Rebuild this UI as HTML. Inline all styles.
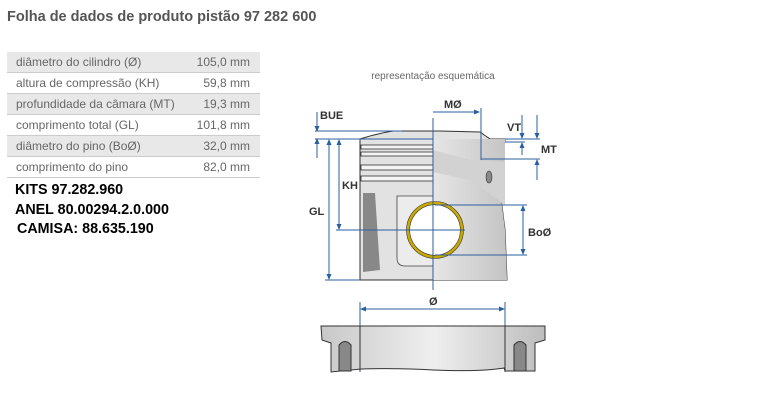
<!DOCTYPE html>
<html><head><meta charset="utf-8"><style>
body{margin:0;width:761px;height:418px;background:#fff;font-family:"Liberation Sans",Arial,sans-serif;position:relative;overflow:hidden}
.t{position:absolute;left:7px;top:9px;font-size:14.5px;font-weight:bold;color:#555}
table{position:absolute;left:7px;top:52px;width:253px;border-collapse:collapse;font-size:12px;color:#666}
td{height:20px;padding:0 0 0 9px;border-bottom:1px solid #ccc}
td.v{text-align:right;padding:0 10px 0 0}
tr:nth-child(odd) td{background:#e8e8e8}
.k{position:absolute;left:15px;font-size:14.3px;font-weight:bold;color:#000}
</style></head><body>
<div class="t">Folha de dados de produto pistão 97 282 600</div>
<table>
<tr><td>diâmetro do cilindro (Ø)</td><td class="v">105,0 mm</td></tr>
<tr><td>altura de compressão (KH)</td><td class="v">59,8 mm</td></tr>
<tr><td>profundidade da câmara (MT)</td><td class="v">19,3 mm</td></tr>
<tr><td>comprimento total (GL)</td><td class="v">101,8 mm</td></tr>
<tr><td>diâmetro do pino (BoØ)</td><td class="v">32,0 mm</td></tr>
<tr><td>comprimento do pino</td><td class="v">82,0 mm</td></tr>
</table>
<div class="k" style="top:182px">KITS 97.282.960</div>
<div class="k" style="top:202px">ANEL 80.00294.2.0.000</div>
<div class="k" style="top:221px;left:17px">CAMISA: 88.635.190</div>
<svg width="761" height="418" style="position:absolute;left:0;top:0" font-family="Liberation Sans,Arial,sans-serif">
<defs><marker id="a" markerWidth="6" markerHeight="6" refX="5" refY="3" orient="auto"><path d="M0,0.5 L6,3 L0,5.5z" fill="#2a5fa0"/></marker>
<linearGradient id="g" x1="0" x2="1"><stop offset="0" stop-color="#c8c8c8"/><stop offset=".5" stop-color="#efefef"/><stop offset="1" stop-color="#bdbdbd"/></linearGradient>
<linearGradient id="r" x1="0" x2="1"><stop offset="0" stop-color="#e6e6e6"/><stop offset="1" stop-color="#c4c4c4"/></linearGradient></defs>
<text x="433" y="79" font-size="10" fill="#666" text-anchor="middle">representação esquemática</text>
<!-- piston -->
<path d="M360,139 L360,280 L507,280 L505,230 L500,190 L505,139 L490,139 L480,132 L440,131 L393,131 Q375,134 360,139z" fill="#e2e2e2" stroke="#333" stroke-width="1"/>
<path d="M433,139 L505,139 L505,160 L500,190 L505,230 L507,280 L433,280z" fill="url(#r)"/>
<path d="M433,150 L470,160 L505,162 L505,205 L470,180 L433,172z" fill="#d2d2d2"/>
<g fill="#f4f4f4" stroke="#333" stroke-width="0.8">
<rect x="361" y="145" width="72" height="4"/><rect x="361" y="152" width="72" height="4"/><rect x="361" y="165" width="72" height="5"/><rect x="361" y="176" width="72" height="5"/>
</g>
<path d="M363,193 L375,193 L380,270 L363,272z" fill="#888"/>
<path d="M397,196 L433,196 L433,266 L405,266 Q397,266 397,258z" fill="#ececec" stroke="#444" stroke-width="0.8"/>
<ellipse cx="489" cy="177" rx="3" ry="6" fill="#888" stroke="#333" stroke-width="0.6"/>
<circle cx="435" cy="230" r="27" fill="#fff" stroke="#c9a800" stroke-width="3"/>
<circle cx="435" cy="230" r="28.5" fill="none" stroke="#333" stroke-width="0.6"/>
<circle cx="435" cy="230" r="25.3" fill="none" stroke="#333" stroke-width="0.6"/>
<g stroke="#2a5fa0" stroke-width="1" fill="none">
<line x1="433" y1="118" x2="433" y2="290"/>
<line x1="315" y1="131" x2="402" y2="131"/><line x1="315" y1="139" x2="433" y2="139"/>
<line x1="317" y1="112" x2="317" y2="131" marker-end="url(#a)"/><line x1="317" y1="158" x2="317" y2="139" marker-end="url(#a)"/>
<line x1="329" y1="150" x2="329" y2="279" marker-end="url(#a)"/><line x1="329" y1="150" x2="329" y2="140" marker-end="url(#a)"/>
<line x1="325" y1="280" x2="360" y2="280"/>
<line x1="339" y1="150" x2="339" y2="229" marker-end="url(#a)"/><line x1="339" y1="150" x2="339" y2="140" marker-end="url(#a)"/>
<line x1="336" y1="230" x2="465" y2="230"/>
<line x1="435" y1="205" x2="527" y2="205"/><line x1="435" y1="255" x2="527" y2="255"/>
<line x1="523" y1="230" x2="523" y2="206" marker-end="url(#a)"/><line x1="523" y1="230" x2="523" y2="254" marker-end="url(#a)"/>
<line x1="433" y1="112" x2="479" y2="112" marker-end="url(#a)"/><line x1="481" y1="108" x2="481" y2="160"/>
<line x1="505" y1="139" x2="540" y2="139"/><line x1="481" y1="159" x2="540" y2="159"/><line x1="505" y1="142" x2="525" y2="142"/>
<line x1="522" y1="115" x2="522" y2="138" marker-end="url(#a)"/><line x1="522" y1="155" x2="522" y2="143" marker-end="url(#a)"/>
<line x1="537" y1="115" x2="537" y2="138" marker-end="url(#a)"/><line x1="537" y1="180" x2="537" y2="160" marker-end="url(#a)"/>
<line x1="360" y1="302" x2="360" y2="372"/><line x1="505" y1="302" x2="505" y2="372"/>
<line x1="380" y1="309" x2="361" y2="309" marker-end="url(#a)"/><line x1="380" y1="309" x2="504" y2="309" marker-end="url(#a)"/>
</g>
<g font-size="11" font-weight="bold" fill="#333">
<text x="320" y="119">BUE</text><text x="444" y="108">MØ</text><text x="507" y="131">VT</text><text x="541" y="153">MT</text>
<text x="342" y="189">KH</text><text x="309" y="215">GL</text><text x="528" y="236">BoØ</text><text x="429" y="305">Ø</text>
</g>
<!-- bottom section -->
<path d="M321,326 L545,326 L545,340 L535,343 L535,371 L505,371 L504,368 Q480,372 433,370 Q400,368 361,369 L331,372 L331,343 L322,340z" fill="url(#g)" stroke="#333"/>
<line x1="360" y1="326" x2="360" y2="371" stroke="#333"/><line x1="505" y1="326" x2="505" y2="371" stroke="#333"/>
<path d="M339,371 L339,345 Q345,338 351,345 L351,371z" fill="#888" stroke="#333"/>
<path d="M514,371 L514,345 Q520,338 526,345 L526,371z" fill="#888" stroke="#333"/>
</svg>
</body></html>
